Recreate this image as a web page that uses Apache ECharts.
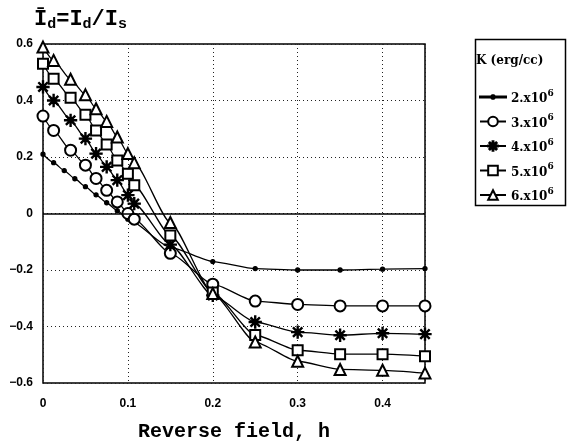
<!DOCTYPE html>
<html><head><meta charset="utf-8">
<script src="https://cdn.jsdelivr.net/npm/echarts@6/dist/echarts.min.js"></script>
<style>html,body{margin:0;padding:0;background:#fff}#c{width:570px;height:443px}</style>
</head><body><div id="c"></div>
<script>
// Data
const hDot = [0, 0.0125, 0.025, 0.0375, 0.05, 0.0625, 0.075, 0.0875, 0.1, 0.15, 0.2, 0.25, 0.3, 0.35, 0.4, 0.45];
const k2 = [0.21, 0.18, 0.152, 0.123, 0.095, 0.066, 0.038, 0.01, -0.02, -0.12, -0.17, -0.195, -0.2, -0.2, -0.197, -0.195];
const hMark = [0, 0.0125, 0.0325, 0.05, 0.0625, 0.075, 0.0875, 0.1, 0.1075, 0.15, 0.2, 0.25, 0.3, 0.35, 0.4, 0.45];
const k3 = [0.345, 0.294, 0.224, 0.171, 0.124, 0.082, 0.041, 0.0, -0.02, -0.141, -0.25, -0.31, -0.322, -0.327, -0.327, -0.327];
const k4 = [0.448, 0.4, 0.33, 0.265, 0.212, 0.165, 0.118, 0.065, 0.035, -0.11, -0.29, -0.384, -0.42, -0.431, -0.424, -0.427];
const k5 = [0.53, 0.477, 0.41, 0.35, 0.294, 0.244, 0.188, 0.141, 0.1, -0.078, -0.28, -0.43, -0.484, -0.498, -0.498, -0.505];
const k6 = [0.589, 0.542, 0.475, 0.42, 0.371, 0.326, 0.271, 0.212, 0.18, -0.032, -0.283, -0.455, -0.523, -0.552, -0.555, -0.565];
const seriesNames = ['2.x10|6', '3.x10|6', '4.x10|6', '5.x10|6', '6.x10|6'];
const xTicks = [0, 0.1, 0.2, 0.3, 0.4];
const yTicks = [-0.6, -0.4, -0.2, 0, 0.2, 0.4, 0.6];

const star = 'path://M-0.9,-10L0.9,-10L0.9,10L-0.9,10Z M-10,-0.9L10,-0.9L10,0.9L-10,0.9Z M-7.7,-6.4L-6.4,-7.7L7.7,6.4L6.4,7.7Z M6.4,-7.7L7.7,-6.4L-6.4,7.7L-7.7,6.4Z';
const dotIcon = 'path://M0,5.4L26,5.4L26,6.6L0,6.6Z M11.2,5.2L12.2,4.2L13.8,4.2L14.8,5.2L14.8,6.8L13.8,7.8L12.2,7.8L11.2,6.8Z';
function pairs(xs, ys){ return xs.map((x,i)=>[x, ys[i]]); }
const base = {type:'line', smooth:0.2, smoothMonotone:'x', lineStyle:{color:'#000', width:1.3},
  itemStyle:{color:'#000', borderColor:'#000', borderWidth:1.3}, z:3};
const chart = echarts.init(document.getElementById('c'), null, {renderer:'canvas'});
const ser = [
  Object.assign({}, base, {name:seriesNames[0], data:pairs(hDot,k2), symbol:'circle', symbolSize:4,
    markLine:{silent:true, symbol:['none','none'], label:{show:false}, lineStyle:{color:'#000', type:'solid', width:1.5}, data:[{yAxis:0}]}}),
  Object.assign({}, base, {name:seriesNames[1], data:pairs(hMark,k3), symbol:'emptyCircle', symbolSize:11}),
  Object.assign({}, base, {name:seriesNames[2], data:pairs(hMark,k4), symbol:star, symbolSize:12}),
  Object.assign({}, base, {name:seriesNames[3], data:pairs(hMark,k5), symbol:'emptyRect', symbolSize:10}),
  Object.assign({}, base, {name:seriesNames[4], data:pairs(hMark,k6), symbol:'emptyTriangle', symbolSize:11})
];
chart.setOption({
  animation:false,
  backgroundColor:'#fff',
  grid:{left:43, right:145, top:44, bottom:60, outerBoundsMode:'none', containLabel:false,
    show:true, borderColor:'#000', borderWidth:1.5, backgroundColor:'transparent'},
  xAxis:{type:'value', min:0, max:0.45, interval:0.1,
    name:'Reverse field, h', nameLocation:'middle', nameGap:39,
    nameTextStyle:{fontFamily:'Liberation Mono', fontWeight:'bold', fontSize:20, color:'#000'},
    axisLine:{show:false}, axisTick:{show:false},
    axisLabel:{color:'#000', fontFamily:'Liberation Sans', fontWeight:'bold', fontSize:12, margin:15,
      formatter:v=> xTicks.includes(Math.round(v*100)/100) ? (v===0?'0':v.toFixed(1)) : ''},
    splitLine:{show:true, lineStyle:{color:'#222', type:[1,3], width:1}}},
  yAxis:{type:'value', min:-0.6, max:0.6, interval:0.2,
    axisLine:{show:false}, axisTick:{show:false},
    axisLabel:{color:'#000', fontFamily:'Liberation Sans', fontWeight:'bold', fontSize:12, margin:10,
      formatter:v=>{ const r=Math.round(v*10)/10; if(!yTicks.includes(r)) return ''; return r===0?'0':(r<0?'\u2212'+(-r).toFixed(1):r.toFixed(1)); }},
    splitLine:{show:true, lineStyle:{color:'#222', type:[1,3], width:1}}},
  legend:{orient:'vertical', left:474, top:84, itemWidth:26, itemHeight:12, itemGap:8.5,
    data:[{name:seriesNames[0], icon:dotIcon}].concat(seriesNames.slice(1)),
    formatter:n=>{ const p=n.split('|'); return '{b|'+p[0]+'}{s|'+p[1]+'}'; },
    textStyle:{color:'#000', rich:{
      b:{fontFamily:'DejaVu Serif', fontWeight:'bold', fontSize:12, lineHeight:16, verticalAlign:'bottom'},
      s:{fontFamily:'DejaVu Serif', fontWeight:'bold', fontSize:9, lineHeight:9, verticalAlign:'top'}}}},
  graphic:[
    {type:'rect', left:473, top:37, shape:{width:90, height:166}, style:{fill:'none', stroke:'#000', lineWidth:1.5}, z:10},
    {type:'text', left:476, top:55, style:{text:'K (erg/cc)', font:'bold 12px "DejaVu Serif"', fill:'#000'}, z:10},
    {type:'text', left:34, top:8, style:{text:'{m|\u012A}{s|d}{m|=I}{s|d}{m|/I}{s|s}', fill:'#000',
      rich:{m:{fontFamily:'Liberation Mono', fontWeight:'bold', fontSize:22, lineHeight:26, verticalAlign:'middle'},
            s:{fontFamily:'Liberation Mono', fontWeight:'bold', fontSize:15, lineHeight:15, verticalAlign:'bottom'}}}, z:10}
  ],
  series:ser
});
</script></body></html>
